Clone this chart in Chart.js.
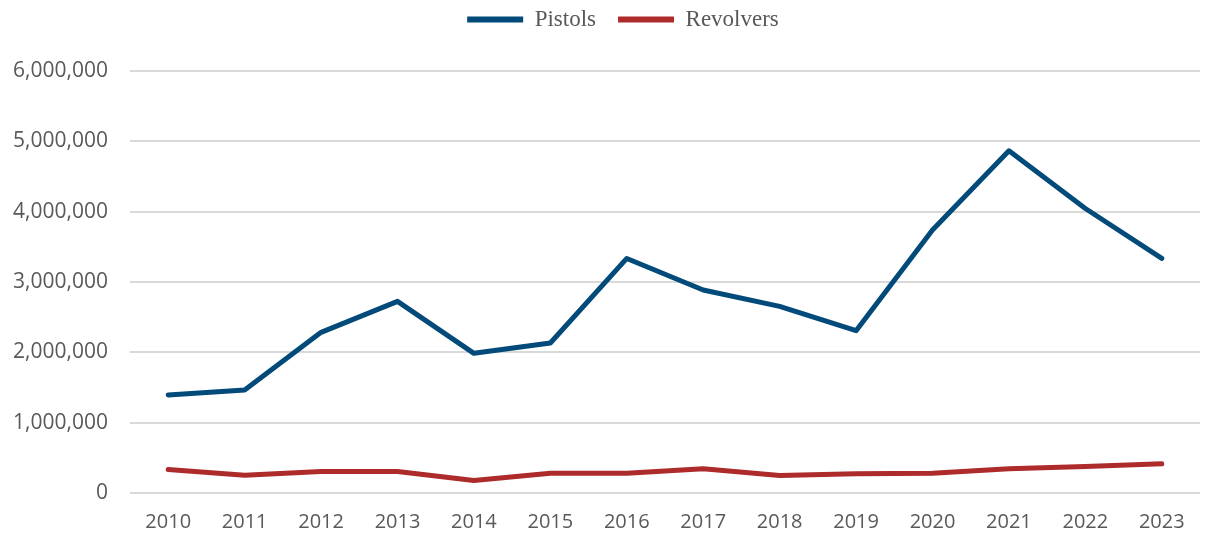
<!DOCTYPE html>
<html>
<head>
<meta charset="utf-8">
<script src="https://cdn.jsdelivr.net/npm/chart.js@4"></script>
<style>
  html, body { margin: 0; padding: 0; background: #fff; }
  #wrap { width: 1205px; height: 533px; }
</style>
</head>
<body>
<div id="wrap"><canvas id="chart"></canvas></div>
<script>
const YEARS = ["2010", "2011", "2012", "2013", "2014", "2015", "2016", "2017", "2018", "2019", "2020", "2021", "2022", "2023"];
const PISTOLS = [1395000, 1466000, 2284000, 2725000, 1986000, 2133000, 3335000, 2886000, 2653000, 2308000, 3738000, 4865000, 4045000, 3335000];
const REVOLVERS = [334000, 253000, 305000, 305000, 178000, 281000, 281000, 344000, 249000, 275000, 280000, 344000, 376000, 415000];
const Y_TICKS = [0, 1000000, 2000000, 3000000, 4000000, 5000000, 6000000];

const COLORS = {
  pistols: "#024A79",
  revolvers: "#AD2B2B",
};

const TEXT_COLOR = "#595959";
const GRID_COLOR = "#d9d9d9";

const fmt = (v) => v.toLocaleString("en-US");

// extra room under the legend, and nudge it right like the original
const legendTweak = {
  id: "legendTweak",
  beforeInit(chart) {
    const legend = chart.legend;
    const fit = legend.fit;
    legend.fit = function () {
      fit.call(this);
      this.height += 30;
    };
    const draw = legend.draw;
    legend.draw = function () {
      this.ctx.save();
      this.ctx.translate(19, 0);
      draw.call(this);
      this.ctx.restore();
    };
  },
};

new Chart(document.getElementById("chart"), {
  type: "line",
  data: {
    labels: YEARS,
    datasets: [
      {
        label: "Pistols",
        data: PISTOLS,
        borderColor: COLORS.pistols,
        backgroundColor: COLORS.pistols,
        borderWidth: 5,
        pointRadius: 0,
        borderCapStyle: "round",
        borderJoinStyle: "round",
        tension: 0,
      },
      {
        label: "Revolvers",
        data: REVOLVERS,
        borderColor: COLORS.revolvers,
        backgroundColor: COLORS.revolvers,
        borderWidth: 5,
        pointRadius: 0,
        borderCapStyle: "round",
        borderJoinStyle: "round",
        tension: 0,
      },
    ],
  },
  plugins: [legendTweak],
  options: {
    responsive: true,
    maintainAspectRatio: false,
    animation: false,
    layout: { padding: { left: 8, right: 5, top: -14, bottom: -18 } },
    scales: {
      x: {
        offset: true,
        grid: { display: false, drawTicks: false, tickLength: 0 },
        border: { display: false },
        ticks: {
          color: TEXT_COLOR,
          font: { family: "Open Sans", size: 20 },
          padding: 17,
          maxRotation: 0,
        },
      },
      y: {
        min: 0,
        max: 6000000,
        afterBuildTicks: (axis) => {
          axis.ticks = Y_TICKS.map((v) => ({ value: v }));
        },
        afterFit: (axis) => {
          axis.width = 122;
        },
        grid: { color: GRID_COLOR, lineWidth: 2, drawTicks: false },
        border: { display: false },
        ticks: {
          color: TEXT_COLOR,
          font: { family: "Open Sans", size: 21 },
          padding: 22,
          callback: (v) => fmt(v),
        },
      },
    },
    plugins: {
      legend: {
        position: "top",
        labels: {
          color: TEXT_COLOR,
          font: { family: "Liberation Serif", size: 23 },
          boxWidth: 56,
          boxHeight: 6,
          padding: 22,
          useBorderRadius: true,
          borderRadius: 3,
          generateLabels: (chart) =>
            chart.data.datasets.map((ds, i) => ({
              text: ds.label,
              fillStyle: ds.borderColor,
              strokeStyle: ds.borderColor,
              lineWidth: 0,
              fontColor: TEXT_COLOR,
              datasetIndex: i,
              hidden: false,
            })),
        },
      },
      tooltip: { enabled: false },
    },
  },
});
</script>
</body>
</html>
